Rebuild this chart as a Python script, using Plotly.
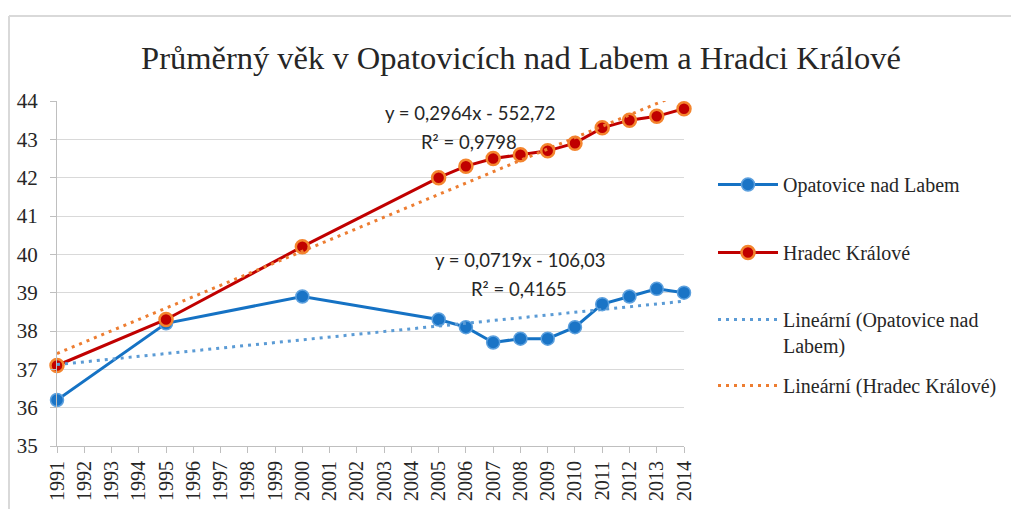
import plotly.graph_objects as go

# ---- data ----
years = [1991, 1995, 2000, 2005, 2006, 2007, 2008, 2009, 2010, 2011, 2012, 2013, 2014]
opatovice = [36.2, 38.2, 38.9, 38.3, 38.1, 37.7, 37.8, 37.8, 38.1, 38.7, 38.9, 39.1, 39.0]
hradec = [37.1, 38.3, 40.2, 42.0, 42.3, 42.5, 42.6, 42.7, 42.9, 43.3, 43.5, 43.6, 43.8]
tick_years = list(range(1991, 2015))
y_ticks = [35, 36, 37, 38, 39, 40, 41, 42, 43, 44]

# trend line coefficients shown in the chart
trend_op = (0.0719, -106.03)
trend_hk = (0.2964, -552.72)
eq_op = ["y = 0,0719x - 106,03", "R² = 0,4165"]
eq_hk = ["y = 0,2964x - 552,72", "R² = 0,9798"]

names = ["Opatovice nad Labem", "Hradec Králové",
         "Lineární (Opatovice nad<br>Labem)", "Lineární (Hradec Králové)"]
title = "Průměrný věk v Opatovicích nad Labem a Hradci Králové"

OFF = 8  # page body margin
W, H = 1019 - OFF, 509 - OFF
L, R, T, B = 57 - OFF, 335, 101 - OFF, 63
PW, PH = W - L - R, H - T - B

serif = "Liberation Serif, Times New Roman, serif"
sans = "Lato"

x_tr = [tick_years[0], tick_years[-1]]
legend_ids = ["legend", "legend2", "legend3", "legend4"]
legend_y = [185, 253, 320, 386]  # page pixel centre of first text line


def px2x(p):
    return (p - OFF - L) / PW


def py2y(p):
    return (H - B - (p - OFF)) / PH


fig = go.Figure()
fig.add_trace(go.Scatter(
    x=years, y=opatovice, name=names[0], mode="lines+markers",
    line=dict(color="#1572C4", width=3),
    marker=dict(size=13, color="#1A74C6", line=dict(color="#5CA0DE", width=1.5)),
    cliponaxis=False, legend=legend_ids[0]))
fig.add_trace(go.Scatter(
    x=years, y=hradec, name=names[1], mode="lines+markers",
    line=dict(color="#C00000", width=3),
    marker=dict(size=13, color="#C00000", line=dict(color="#F4852E", width=2.5)),
    cliponaxis=False, legend=legend_ids[1]))
fig.add_trace(go.Scatter(
    x=x_tr, y=[trend_op[0] * v + trend_op[1] for v in x_tr], name=names[2], mode="lines",
    line=dict(color="#5B9BD5", width=3, dash="3px,5px"), legend=legend_ids[2]))
fig.add_trace(go.Scatter(
    x=x_tr, y=[trend_hk[0] * v + trend_hk[1] for v in x_tr], name=names[3], mode="lines",
    line=dict(color="#ED7D31", width=3, dash="3px,5px"), legend=legend_ids[3]))

ann = []
for (txt, px, py) in [(eq_hk[0], 470, 113), (eq_hk[1], 469, 142),
                      (eq_op[0], 520, 260), (eq_op[1], 519, 289)]:
    ann.append(dict(x=px2x(px), y=py2y(py), xref="paper", yref="paper",
                    text=txt, showarrow=False, xanchor="center", yanchor="middle",
                    font=dict(family=sans, size=18.5, color="#262626")))

shapes = [
    dict(type="line", xref="paper", yref="paper", x0=px2x(9), x1=px2x(1030),
         y0=py2y(16), y1=py2y(16), line=dict(color="#D9D9D9", width=2)),
    dict(type="line", xref="paper", yref="paper", x0=px2x(9), x1=px2x(9),
         y0=py2y(16), y1=py2y(520), line=dict(color="#D9D9D9", width=2)),
]

layout = dict(
    width=W, height=H,
    margin=dict(l=L, r=R, t=T, b=B, autoexpand=False),
    paper_bgcolor="white", plot_bgcolor="white",
    title=dict(text=title, x=513 / W, xref="container", xanchor="center",
               y=1 - 50 / H, yref="container", yanchor="middle",
               font=dict(family=serif, size=32.5, color="#262626")),
    xaxis=dict(range=[tick_years[0], tick_years[-1]], tickmode="array", tickvals=tick_years,
               ticktext=[str(v) for v in tick_years], tickangle=-90,
               showgrid=False, zeroline=False, showline=True, linecolor="#BFBFBF", linewidth=1,
               ticks="outside", ticklen=6, tickcolor="#BFBFBF",
               tickfont=dict(family=serif, size=20, color="#262626")),
    yaxis=dict(range=[y_ticks[0], y_ticks[-1]], tickmode="array", tickvals=y_ticks,
               showgrid=True, gridcolor="#D9D9D9", gridwidth=1, zeroline=False,
               showline=True, linecolor="#BFBFBF", linewidth=1,
               ticks="outside", ticklen=6, tickcolor="#BFBFBF", ticklabelstandoff=8,
               tickfont=dict(family=serif, size=21, color="#262626")),
    annotations=ann, shapes=shapes, showlegend=True,
)
for lid, ly in zip(legend_ids, legend_y):
    layout[lid] = dict(x=705 / W, xref="container", y=1 - (ly - 28) / H, yref="container",
                       xanchor="left", yanchor="top", itemwidth=60, valign="top",
                       bgcolor="rgba(0,0,0,0)", maxheight=1,
                       font=dict(family=serif, size=20, color="#262626"))
fig.update_layout(**layout)

fig.write_html("out.html")
